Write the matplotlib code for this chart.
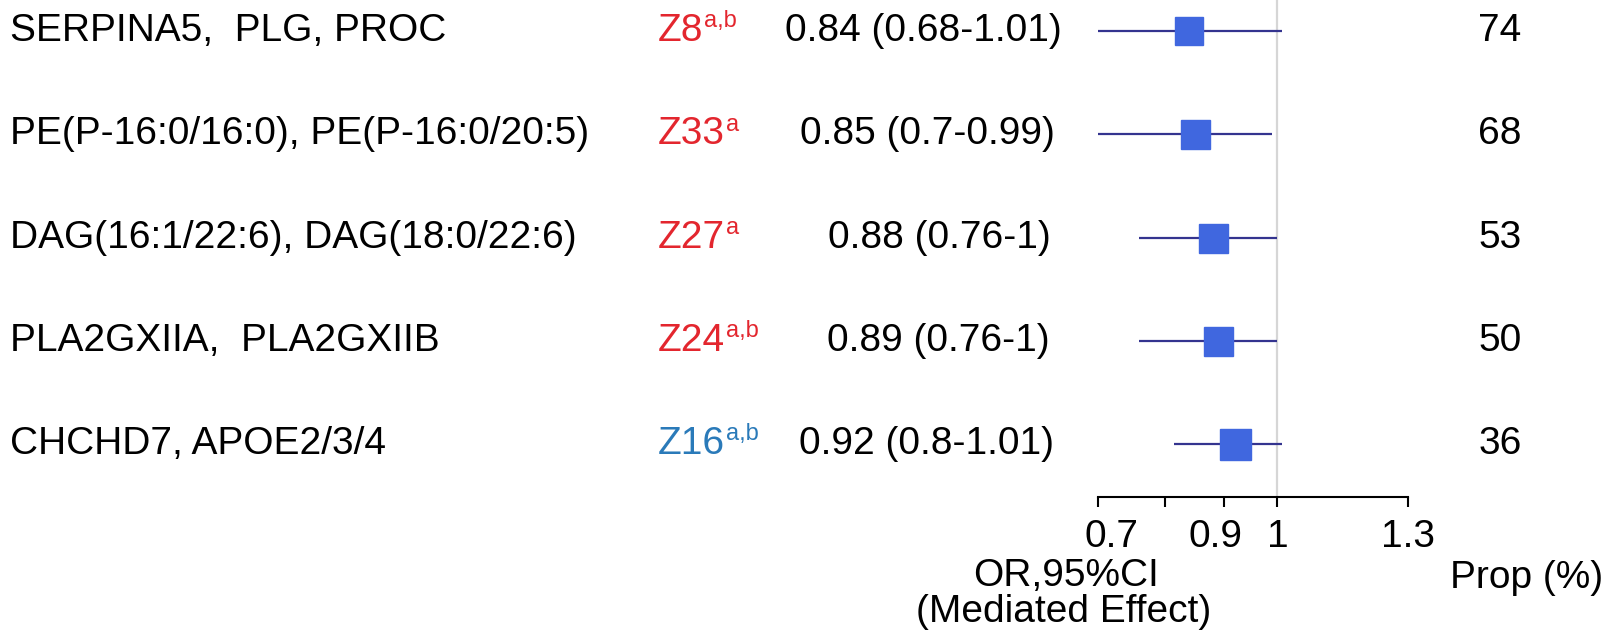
import matplotlib
matplotlib.use("Agg")
import matplotlib.pyplot as plt
from matplotlib import transforms
from matplotlib.ticker import NullLocator, FixedLocator, FixedFormatter

plt.rcParams['font.family'] = ['Liberation Sans', 'DejaVu Sans']

# ---- data ----
labels = ["SERPINA5,  PLG, PROC",
          "PE(P-16:0/16:0), PE(P-16:0/20:5)",
          "DAG(16:1/22:6), DAG(18:0/22:6)",
          "PLA2GXIIA,  PLA2GXIIB",
          "CHCHD7, APOE2/3/4"]
clusters = ["Z8", "Z33", "Z27", "Z24", "Z16"]
supers = ["a,b", "a", "a", "a,b", "a,b"]
cluster_colors = ["#e3262e", "#e3262e", "#e3262e", "#e3262e", "#2a7ab9"]
or_vals = [0.84, 0.85, 0.88, 0.89, 0.92]
ci_lo = [0.68, 0.70, 0.76, 0.76, 0.815]
ci_hi = [1.01, 0.99, 1.00, 1.00, 1.01]
or_text = ["0.84 (0.68-1.01)", "0.85 (0.7-0.99)", "0.88 (0.76-1)",
           "0.89 (0.76-1)", "0.92 (0.8-1.01)"]
prop = [74, 68, 53, 50, 36]
marker_px = [28, 29, 29, 29, 31]
xticks = [0.7, 0.8, 0.9, 1.0, 1.3]
xticklabels = ["0.7", "", "0.9", "1", "1.3"]

W, H = 1612, 636
fig = plt.figure(figsize=(W / 100, H / 100), dpi=100)
ax_left, ax_right, ax_bottom_px = 1098, 1408, 497
ax = fig.add_axes([ax_left / W, (H - ax_bottom_px) / H,
                   (ax_right - ax_left) / W, ax_bottom_px / H])
ax.set_xscale('log')
ax.set_xlim(0.7, 1.3)
row0, step = 31, 103.3
ax.set_ylim((ax_bottom_px - row0) / step, -row0 / step)

for s in ['top', 'right', 'left']:
    ax.spines[s].set_visible(False)
ax.spines['bottom'].set_linewidth(1.5)
ax.yaxis.set_major_locator(NullLocator())
ax.xaxis.set_minor_locator(NullLocator())
ax.xaxis.set_major_locator(FixedLocator(xticks))
ax.xaxis.set_major_formatter(FixedFormatter(xticklabels))
ax.tick_params(axis='x', length=7.5, width=1.5, pad=8, labelsize=28)
# label shifts
shifts = [13, 0, -8, 1, 0]
for lab, sh in zip(ax.get_xticklabels(), shifts):
    lab.set_transform(lab.get_transform() +
                      transforms.ScaledTranslation(sh / 100, 0, fig.dpi_scale_trans))

ax.axvline(1.0, color='#d6d6d6', lw=1.6, zorder=0)

navy = "#34348f"
mcol = "#4067df"
for i in range(len(labels)):
    ax.hlines(i, ci_lo[i], ci_hi[i], color=navy, lw=1.6, zorder=2)
    ax.plot(or_vals[i], i, 's', ms=marker_px[i] * 0.72, color=mcol,
            mec=mcol, zorder=3, clip_on=False)

trans = transforms.blended_transform_factory(fig.transFigure, ax.transData)
fs = 28
or_x = [923, 927, 939, 938, 927]
for i in range(len(labels)):
    ax.text(10 / W, i, labels[i], transform=trans, ha='left', va='center',
            fontsize=fs, color='black')
    t = ax.text(658 / W, i, clusters[i], transform=trans, ha='left',
                va='center', fontsize=fs, color=cluster_colors[i])
    ax.annotate(supers[i], xy=(1, 1), xycoords=t, xytext=(0.5, 2),
                textcoords='offset points', ha='left', va='top',
                fontsize=17, color=cluster_colors[i])
    ax.text(or_x[i] / W, i, or_text[i], transform=trans, ha='center', va='center',
            fontsize=fs, color='black')
    ax.text(1500 / W, i, str(prop[i]), transform=trans, ha='center',
            va='center', fontsize=fs, color='black')

fig.text(1066 / W, 1 - 576 / H, "OR,95%CI", ha='center', va='center', fontsize=fs)
fig.text(1064 / W, 1 - 612 / H, "(Mediated Effect)", ha='center', va='center', fontsize=fs)
fig.text(1527 / W, 1 - 578 / H, "Prop (%)", ha='center', va='center', fontsize=fs)

fig.savefig("out.png", dpi=100, facecolor='white')
